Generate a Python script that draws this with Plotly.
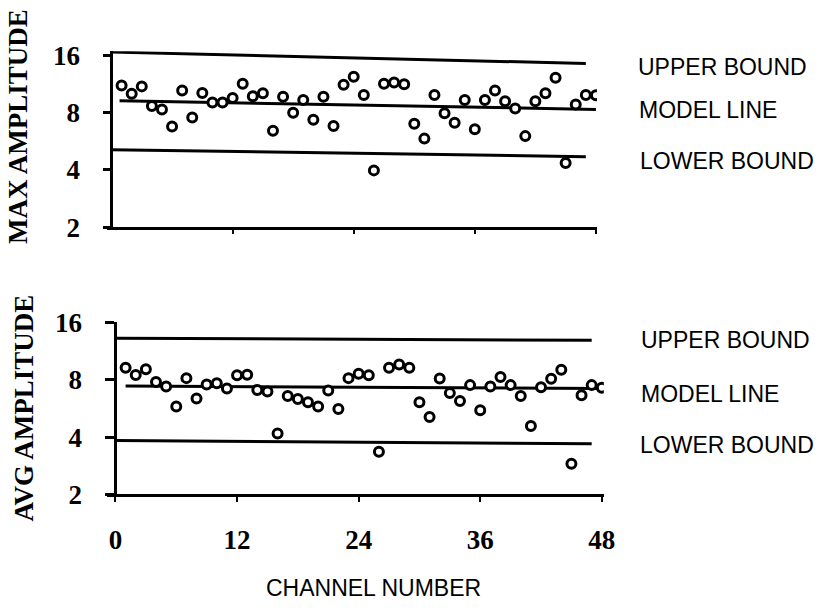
import plotly.graph_objects as go

W, H = 825, 616

channels = list(range(1, 49))

max_amp = [11.15, 10.09, 11.02, 8.68, 8.33, 6.77, 10.49, 7.56, 10.17, 9.06,
           9.06, 9.57, 11.37, 9.79, 10.13, 6.43, 9.71, 8.01, 9.35, 7.36,
           9.71, 6.81, 11.24, 12.37, 9.94, 3.98, 11.37, 11.54, 11.32, 7.01,
           5.85, 9.94, 7.95, 7.09, 9.35, 6.56, 9.35, 10.49, 9.20, 8.43,
           6.03, 9.20, 10.13, 12.23, 4.35, 8.85, 9.94, 9.90]

avg_amp = [9.25, 8.46, 9.07, 7.78, 7.37, 5.79, 8.15, 6.38, 7.54, 7.67,
           7.20, 8.43, 8.50, 7.07, 6.94, 4.18, 6.57, 6.33, 6.09, 5.79,
           7.02, 5.62, 8.15, 8.60, 8.43, 3.35, 9.25, 9.61, 9.25, 6.09,
           5.10, 8.12, 6.80, 6.18, 7.49, 5.53, 7.37, 8.27, 7.49, 6.57,
           4.57, 7.29, 8.08, 9.01, 2.90, 6.62, 7.49, 7.26]

# line end points (channel, value)
bound_x = [0, 47]
model_x = [0.8, 48]
max_upper = [16.7, 14.55]
max_model = [9.27, 8.33]
max_lower = [5.11, 4.70]

avg_bound_x = [0, 47]
avg_model_x = [1, 48]
avg_upper = [13.2, 12.87]
avg_model = [7.41, 7.18]
avg_lower = [3.84, 3.69]

ytick_vals = [2, 4, 8, 16]
ytick_text = ["2", "4", "8", "16"]
xtick_vals = [0, 12, 24, 36, 48]
xtick_text = ["0", "12", "24", "36", "48"]

SERIF = "Liberation Serif"
SANS = "Liberation Sans"

fig = go.Figure()

line_style = dict(color="black", width=3)
marker_style = dict(symbol="circle", size=9, color="white",
                    line=dict(color="black", width=3))

for xs, ys in [(bound_x, max_upper), (model_x, max_model), (bound_x, max_lower)]:
    fig.add_trace(go.Scatter(x=xs, y=ys, mode="lines", line=line_style,
                             xaxis="x", yaxis="y", hoverinfo="skip"))
fig.add_trace(go.Scatter(x=channels, y=max_amp, mode="markers", marker=marker_style,
                         xaxis="x", yaxis="y"))

for xs, ys in [(avg_bound_x, avg_upper), (avg_model_x, avg_model), (avg_bound_x, avg_lower)]:
    fig.add_trace(go.Scatter(x=xs, y=ys, mode="lines", line=line_style,
                             xaxis="x2", yaxis="y2", hoverinfo="skip"))
fig.add_trace(go.Scatter(x=channels, y=avg_amp, mode="markers", marker=marker_style,
                         xaxis="x2", yaxis="y2"))

tickfont = dict(family=SERIF, size=27, color="black", weight="bold")

fig.update_layout(
    width=W, height=H,
    margin=dict(l=0, r=0, t=0, b=0),
    paper_bgcolor="white", plot_bgcolor="white",
    showlegend=False,
    xaxis=dict(domain=[108 / W, 605 / W], range=[-0.49, 48.1], anchor="y",
               showline=True, linewidth=3, linecolor="black",
               ticks="outside", tickvals=[12, 24, 36, 48], ticklen=4, tickwidth=2,
               tickcolor="black", showticklabels=False,
               showgrid=False, zeroline=False),
    yaxis=dict(type="log", domain=[1 - 223 / H, 1 - 38 / H], range=[0.30103, 1.2277],
               anchor="free", position=113 / W,
               showline=True, linewidth=3, linecolor="black",
               ticks="outside", tickvals=ytick_vals, ticktext=ytick_text,
               ticklen=7, tickwidth=3, tickcolor="black",
               tickfont=tickfont, ticklabelstandoff=18,
               showgrid=False, zeroline=False),
    xaxis2=dict(domain=[108 / W, 612 / W], range=[-0.88, 48.2], anchor="y2",
                showline=True, linewidth=3, linecolor="black",
                ticks="outside", tickvals=xtick_vals, ticktext=xtick_text,
                ticklen=5, tickwidth=2, tickcolor="black",
                tickfont=tickfont, ticklabelstandoff=14,
                showgrid=False, zeroline=False),
    yaxis2=dict(type="log", domain=[1 - 504 / H, 1 - 323 / H], range=[0.30103, 1.20412],
                anchor="free", position=117 / W,
                showline=True, linewidth=3, linecolor="black",
                ticks="outside", tickvals=ytick_vals, ticktext=ytick_text,
                ticklen=9, tickwidth=3, tickcolor="black",
                tickfont=tickfont, ticklabelstandoff=18,
                showgrid=False, zeroline=False),
)

ann = []
title_font = dict(family=SERIF, size=27, color="black", weight="bold")
ann.append(dict(text="MAX AMPLITUDE", x=19 / W, y=1 - 117 / H, xref="paper", yref="paper",
                textangle=-90, showarrow=False, font=title_font,
                xanchor="center", yanchor="middle"))
ann.append(dict(text="AVG AMPLITUDE", x=24 / W, y=1 - 413 / H, xref="paper", yref="paper",
                textangle=-90, showarrow=False, font=title_font,
                xanchor="center", yanchor="middle"))

label_font = dict(family=SANS, size=23, color="black")
for text, xp, yp in [("UPPER BOUND", 645, 55), ("MODEL LINE", 646, 100),
                     ("LOWER BOUND", 647, 153), ("UPPER BOUND", 648, 342),
                     ("MODEL LINE", 648, 398), ("LOWER BOUND", 647, 452)]:
    ann.append(dict(text=text, x=xp / W, y=1 - yp / H, xref="paper", yref="paper",
                    showarrow=False, font=label_font, xanchor="left", yanchor="middle"))

ann.append(dict(text="CHANNEL NUMBER", x=379 / W, y=1 - 602 / H, xref="paper", yref="paper",
                showarrow=False, font=label_font, xanchor="center", yanchor="middle"))

fig.update_layout(annotations=ann)

fig.write_html("out.html")
